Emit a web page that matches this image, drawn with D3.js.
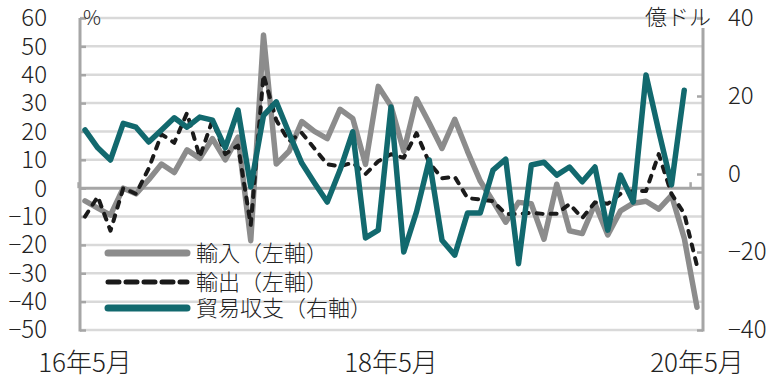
<!DOCTYPE html>
<html>
<head>
<meta charset="utf-8">
<script src="https://cdn.jsdelivr.net/npm/d3@7"></script>
<style>
  body { margin: 0; background: #fff; }
  svg text { font-family: "Noto Sans CJK JP", "Noto Sans", sans-serif; fill: #222; }
</style>
</head>
<body>
<div id="chart"></div>
<script>
// data, monthly from 16年5月
var imports = [-4.5, -7, -9.5, 0, -2, 3, 8.5, 5.5, 13.5, 10.5, 17.5, 10, 18, -18.5, 54,
  8.5, 13, 23.5, 20, 17.5, 27.8, 24.6, 8.4, 35.9, 29, 13, 31.5, 23, 14, 24.3,
  13, 2.5, -4.6, -12, -5, -5.5, -18, 1.4, -15, -16, -5.5, -16.5, -8, -5.3, -4.6,
  -7.4, -2.5, -17.6, -42];
var exports = [-10, -3, -15, 0, -2, 7, 19, 16, 26.5, 11, 24, 12, 15, -13, 40,
  24, 16.5, 19.5, 14, 8.4, 7.7, 9, 5, 9.5, 12, 10.7, 19.4, 9, 3.5, 4,
  -3.5, -4, -4.6, -9.1, -9.1, -8.7, -9.1, -9, -5.6, -10.5, -5, -5.5, -2, -1, -1,
  12, -2, -9, -27.4];
var balance = [11.3, 6.7, 3.6, 13, 12, 8.2, 11.3, 14.4, 12, 14.6, 13.8, 6.7, 16.4, -3.3, 15,
  18.5, 10.5, 2.8, -2.3, -7.2, 1, 10.8, -16.4, -14.4, 17.2, -20, -9.7, 3.6, -17, -20.8,
  -10, -10, 1, 3.8, -23, 2.3, 3, -0.3, 1.8, -2, 1.8, -14.4, -0.3, -7.2, 25.4,
  11, -2.8, 21.5];

var xTickIdx = [0, 24, 48];
var xTickLabels = ["16年5月", "18年5月", "20年5月"];
var leftTicks = [60, 50, 40, 30, 20, 10, 0, -10, -20, -30, -40, -50];
var rightTicks = [40, 20, 0, -20, -40];

var legendNames = ["輸入（左軸）", "輸出（左軸）", "貿易収支（右軸）"];

var svgWidth = 776;
var svgHeight = 378;

var plot = { left: 80, right: 703, top: 18, bottom: 330 };

var svg = d3.select("#chart")
  .append("svg")
  .attr("width", svgWidth)
  .attr("height", svgHeight);

var x = d3.scaleLinear().domain([0, 48]).range([85, 697]);
var yLeft = d3.scaleLinear().domain([-50, 60]).range([plot.bottom, plot.top]);
var yRight = d3.scaleLinear().domain([-40, 40]).range([plot.bottom, plot.top]);

// gridlines
svg.append("g")
  .selectAll("line")
  .data(leftTicks.filter(d => d !== 0))
  .enter()
  .append("line")
  .attr("x1", plot.left)
  .attr("x2", plot.right)
  .attr("y1", d => yLeft(d))
  .attr("y2", d => yLeft(d))
  .attr("stroke", "#d9d9d9")
  .attr("stroke-width", 2.5);

// left axis
var leftAxis = d3.axisRight(yLeft).tickValues(leftTicks).tickSize(6).tickFormat("");
var gl = svg.append("g")
  .attr("transform", `translate(${plot.left},0)`)
  .call(leftAxis);
gl.select(".domain").remove();
gl.selectAll(".tick line").attr("stroke", "#a6a6a6").attr("stroke-width", 2.5);
svg.append("line")
  .attr("x1", plot.left).attr("x2", plot.left)
  .attr("y1", plot.top).attr("y2", plot.bottom + 1.5)
  .attr("stroke", "#a6a6a6").attr("stroke-width", 3);

svg.append("g")
  .selectAll("text")
  .data(leftTicks)
  .enter()
  .append("text")
  .attr("x", 47)
  .attr("y", d => yLeft(d))
  .attr("dy", "0.35em")
  .attr("text-anchor", "end")
  .style("font-size", "24px")
  .style("font-weight", 300)
  .text(d => d < 0 ? "−" + Math.abs(d) : d);

// right axis
var rightAxis = d3.axisLeft(yRight).tickValues(rightTicks).tickSize(6).tickFormat("");
var gr = svg.append("g")
  .attr("transform", `translate(${plot.right},0)`)
  .call(rightAxis);
gr.select(".domain").remove();
gr.selectAll(".tick line").attr("stroke", "#a6a6a6").attr("stroke-width", 2.5);
svg.append("line")
  .attr("x1", plot.right).attr("x2", plot.right)
  .attr("y1", 28).attr("y2", plot.bottom + 1.5)
  .attr("stroke", "#a6a6a6").attr("stroke-width", 3);

svg.append("g")
  .selectAll("text")
  .data(rightTicks)
  .enter()
  .append("text")
  .attr("x", 728)
  .attr("y", d => yRight(d))
  .attr("dy", "0.35em")
  .attr("text-anchor", "start")
  .style("font-size", "24px")
  .style("font-weight", 300)
  .text(d => d < 0 ? "−" + Math.abs(d) : d);

// zero line (category axis)
svg.append("line")
  .attr("x1", plot.left).attr("x2", plot.right)
  .attr("y1", yLeft(0)).attr("y2", yLeft(0))
  .attr("stroke", "#a6a6a6").attr("stroke-width", 3);
svg.append("g")
  .selectAll("line")
  .data(xTickIdx)
  .enter()
  .append("line")
  .attr("x1", d => x(d) - 6.4).attr("x2", d => x(d) - 6.4)
  .attr("y1", yLeft(0)).attr("y2", yLeft(0) - 6)
  .attr("stroke", "#a6a6a6").attr("stroke-width", 2.5);

svg.append("g")
  .selectAll("text")
  .data(xTickIdx)
  .enter()
  .append("text")
  .attr("x", d => x(d))
  .attr("y", 372)
  .attr("text-anchor", "middle")
  .style("font-size", "26px")
  .style("font-weight", 300)
  .text((d, i) => xTickLabels[i]);

// units
svg.append("text")
  .attr("x", 83).attr("y", 25)
  .style("font-size", "20px")
  .style("font-weight", 300)
  .text("%");
svg.append("text")
  .attr("x", 711).attr("y", 25)
  .attr("text-anchor", "end")
  .style("font-size", "22px")
  .style("font-weight", 300)
  .text("億ドル");

// lines
var lineL = d3.line().x((d, i) => x(i)).y(d => yLeft(d));
var lineR = d3.line().x((d, i) => x(i)).y(d => yRight(d));

var styles = [
  { color: "#8c8c8c", width: 5.5, dash: null },
  { color: "#1a1a1a", width: 4, dash: "6,8" },
  { color: "#12696e", width: 5.5, dash: null }
];

svg.append("path")
  .datum(imports)
  .attr("d", lineL)
  .attr("fill", "none")
  .attr("stroke", styles[0].color)
  .attr("stroke-width", styles[0].width)
  .attr("stroke-linejoin", "round")
  .attr("stroke-linecap", "round");

svg.append("path")
  .datum(exports)
  .attr("d", lineL)
  .attr("fill", "none")
  .attr("stroke", styles[1].color)
  .attr("stroke-width", styles[1].width)
  .attr("stroke-dasharray", styles[1].dash)
  .attr("stroke-linejoin", "round")
  .attr("stroke-linecap", "round");

svg.append("path")
  .datum(balance)
  .attr("d", lineR)
  .attr("fill", "none")
  .attr("stroke", styles[2].color)
  .attr("stroke-width", styles[2].width)
  .attr("stroke-linejoin", "round")
  .attr("stroke-linecap", "round");

// legend
var legendY = [253, 282, 308];
var legend = svg.append("g")
  .selectAll("g")
  .data(legendNames)
  .enter()
  .append("g")
  .attr("transform", (d, i) => `translate(0,${legendY[i]})`);

legend.append("line")
  .attr("x1", 108).attr("x2", 187)
  .attr("y1", 0).attr("y2", 0)
  .attr("stroke", (d, i) => styles[i].color)
  .attr("stroke-width", (d, i) => i === 1 ? 5 : 7)
  .attr("stroke-dasharray", (d, i) => i === 1 ? "11,7" : null)
  .attr("stroke-linecap", "round");

legend.append("text")
  .attr("x", 196)
  .attr("y", 0)
  .attr("dy", "0.36em")
  .style("font-size", "22px")
  .style("font-weight", 300)
  .text(d => d);
</script>
</body>
</html>
